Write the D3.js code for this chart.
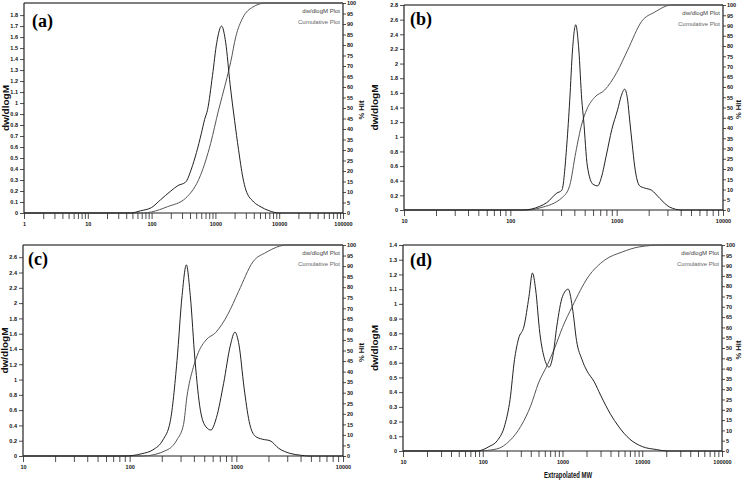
<!DOCTYPE html>
<html>
<head>
<meta charset="utf-8">
<title>MW distributions</title>
<script src="https://cdnjs.cloudflare.com/ajax/libs/d3/7.8.5/d3.min.js"></script>
<style>
  body { margin: 0; background: #fff; }
  svg { display: block; }
  .tk { font-family: 'Liberation Sans Narrow', 'Liberation Sans', sans-serif; font-size: 5.5px; font-weight: bold; fill: #111; }
  .ttl { font-family: 'Liberation Sans', sans-serif; font-size: 9px; font-weight: bold; fill: #111; }
  .xt { font-family: 'Liberation Sans Narrow', 'Liberation Sans', sans-serif; font-size: 9px; font-weight: bold; fill: #111; }
  .leg { font-family: 'Liberation Sans Narrow', 'Liberation Sans', sans-serif; font-size: 6px; fill: #444; }
  .pl { font-family: 'Liberation Serif', 'DejaVu Serif', serif; font-size: 18px; font-weight: bold; fill: #000; }
</style>
</head>
<body>
<script>
// panel (a)
var mwA  = [47, 67, 100, 138, 200, 260, 340, 420, 505, 600, 677, 754, 900, 1050, 1250, 1450, 1700, 2000, 2300, 2700, 3000, 4000, 5000, 7000, 10000];
var dwA  = [0, 0.02, 0.05, 0.12, 0.2, 0.25, 0.28, 0.4, 0.55, 0.72, 0.85, 0.94, 1.25, 1.55, 1.70, 1.55, 1.17, 0.84, 0.58, 0.32, 0.21, 0.1, 0.06, 0.02, 0];
var cmwA = [74, 100, 177, 340, 585, 840, 1120, 1450, 1740, 2090, 2690, 3830, 6150];
var cumA = [0, 0.5, 3, 7, 18, 33, 49, 62, 72, 84, 93, 98, 100];

// panel (b)
var mwB  = [131, 189, 220, 273, 305, 340, 362, 385, 412, 440, 470, 489, 530, 600, 663, 720, 800, 900, 1021, 1100, 1188, 1268, 1325, 1400, 1476, 1644, 1833, 2131, 2537, 3148, 4074];
var dwB  = [0, 0.05, 0.1, 0.23, 0.27, 0.9, 1.5, 2.2, 2.53, 2.2, 1.5, 1.23, 0.6, 0.35, 0.33, 0.45, 0.75, 1.1, 1.37, 1.55, 1.65, 1.5, 1.23, 0.9, 0.6, 0.33, 0.3, 0.27, 0.16, 0.04, 0];
var cmwB = [146, 189, 311, 362, 412, 470, 523, 621, 771, 1000, 1268, 1717, 2275, 3284];
var cumB = [0, 1, 6.3, 12, 28, 42, 49, 55, 58.5, 67, 78, 92, 96.5, 100];

// panel (c)
var mwC  = [90, 130, 165, 205, 240, 278, 310, 340, 370, 410, 460, 520, 578, 650, 760, 880, 970, 1060, 1180, 1320, 1500, 1750, 2070, 2500, 3170, 4000, 4700];
var dwC  = [0, 0.03, 0.08, 0.21, 0.45, 1.25, 2.1, 2.5, 2.1, 1.25, 0.6, 0.38, 0.34, 0.5, 0.95, 1.45, 1.62, 1.45, 0.9, 0.45, 0.26, 0.22, 0.2, 0.1, 0.035, 0.01, 0];
var cmwC = [133, 223, 277, 320, 344, 395, 440, 520, 640, 830, 1050, 1430, 1900, 3000];
var cumC = [0, 2.8, 7.6, 15, 28, 42, 49, 55, 58.5, 67, 78, 92, 96.5, 100];

// panel (d)
var mwD  = [85, 120, 152, 190, 220, 250, 280, 330, 380, 420, 460, 520, 600, 680, 760, 850, 1000, 1180, 1350, 1500, 1760, 2000, 2500, 3000, 4000, 5000, 7000, 10000, 15000, 20500];
var dwD  = [0, 0.03, 0.07, 0.18, 0.35, 0.62, 0.76, 0.85, 1.05, 1.21, 1.1, 0.8, 0.62, 0.57, 0.65, 0.85, 1.05, 1.10, 0.95, 0.75, 0.62, 0.55, 0.47, 0.38, 0.25, 0.17, 0.08, 0.03, 0.01, 0];
var cmwD = [85, 150, 218, 300, 400, 500, 650, 807, 1000, 1320, 2100, 3390, 5600, 8950, 17800];
var cumD = [0, 1, 5, 12, 22, 33, 42, 50.5, 60, 70, 84.5, 92.7, 96.6, 99, 100];

var W = 742, H = 483;
var svg = d3.select("body").append("svg").attr("width", W).attr("height", H);

var panels = [
  {name: "(a)", mw: mwA, dw: dwA, cmw: cmwA, cum: cumA, xd: [1, 1e5], ymax: 1.91, ytop: 1.8, ystep: 0.1,
   l: 24, r: 343, t: 3, b: 213, lx: 32, ly: 27, ylx: 9, hx: 364},
  {name: "(b)", mw: mwB, dw: dwB, cmw: cmwB, cum: cumB, xd: [10, 1e4], ymax: 2.8, ytop: 2.8, ystep: 0.2,
   l: 404, r: 723, t: 5, b: 210, lx: 410, ly: 25, ylx: 378, hx: 741},
  {name: "(c)", mw: mwC, dw: dwC, cmw: cmwC, cum: cumC, xd: [10, 1e4], ymax: 2.76, ytop: 2.6, ystep: 0.2,
   l: 23, r: 343, t: 245, b: 456, lx: 28, ly: 265, ylx: 8, hx: 364},
  {name: "(d)", mw: mwD, dw: dwD, cmw: cmwD, cum: cumD, xd: [10, 1e5], ymax: 1.4, ytop: 1.4, ystep: 0.1,
   l: 403, r: 722, t: 245, b: 451, lx: 410, ly: 266, ylx: 378, hx: 741}
];

panels.forEach(function(p) {
  var g = svg.append("g");
  var x = d3.scaleLog().domain(p.xd).range([p.l, p.r]);
  var y = d3.scaleLinear().domain([0, p.ymax]).range([p.b, p.t]);
  var y2 = d3.scaleLinear().domain([0, 100]).range([p.b, p.t]);

  // log ticks 1..9 per decade
  var xt = [];
  for (var e = Math.log10(p.xd[0]); e <= Math.log10(p.xd[1]); e++) {
    for (var k = 1; k <= 9; k++) {
      var v = k * Math.pow(10, e);
      if (v <= p.xd[1] * 1.0001) xt.push(v);
    }
  }
  var xAxis = d3.axisBottom(x).tickValues(xt).tickSize(6).tickPadding(3)
    .tickFormat(function(d) {
      var lg = Math.log10(d);
      return Math.abs(lg - Math.round(lg)) < 1e-6 ? String(Math.round(d)) : "";
    });
  var yt = d3.range(0, p.ytop + 1e-6, p.ystep).map(function(d) { return +d.toFixed(1); });
  var yAxis = d3.axisLeft(y).tickValues(yt).tickSize(4).tickPadding(2)
    .tickFormat(function(d) { return String(d); });
  var y2Axis = d3.axisRight(y2).tickValues(d3.range(0, 101, 5)).tickSize(3).tickPadding(1);

  // frame top
  g.append("line").attr("x1", p.l).attr("x2", p.r).attr("y1", p.t).attr("y2", p.t)
    .attr("stroke", "#555").attr("stroke-width", 1.5);

  var xg = g.append("g").attr("transform", "translate(0," + p.b + ")").call(xAxis);
  var yg = g.append("g").attr("transform", "translate(" + p.l + ",0)").call(yAxis);
  var y2g = g.append("g").attr("transform", "translate(" + p.r + ",0)").call(y2Axis);
  [xg, yg, y2g].forEach(function(a) {
    a.selectAll("text").attr("class", "tk").attr("font-size", null).attr("font-family", null);
    a.selectAll("line").attr("stroke", "#222").attr("stroke-width", 0.8);
    a.select(".domain").attr("stroke", "#222").attr("stroke-width", 1.2);
    a.attr("font-size", null).attr("font-family", null);
  });
  xg.select(".domain").attr("d", "M" + p.l + ",0H" + p.r);
  yg.select(".domain").attr("d", "M0," + p.b + "V" + p.t);
  y2g.select(".domain").attr("d", "M0," + p.b + "V" + p.t);

  var line = d3.line().curve(d3.curveMonotoneX);
  var dwPts = p.mw.map(function(m, i) { return [x(m), y(p.dw[i])]; });
  var cumPts = p.cmw.map(function(m, i) { return [x(m), y2(p.cum[i])]; });
  cumPts.push([p.r, y2(100)]);
  dwPts.push([p.r, y(0)]);
  dwPts.unshift([p.l, y(0)]);
  cumPts.unshift([p.l, y2(0)]);

  g.append("path").attr("d", line(cumPts)).attr("fill", "none")
    .attr("stroke", "#555").attr("stroke-width", 1);
  g.append("path").attr("d", line(dwPts)).attr("fill", "none")
    .attr("stroke", "#222").attr("stroke-width", 1);

  // legend
  g.append("text").attr("class", "leg").attr("x", p.r - 3).attr("y", p.t + 10)
    .attr("text-anchor", "end").attr("fill", "#333").text("dw/dlogM Plot");
  g.append("text").attr("class", "leg").attr("x", p.r - 3).attr("y", p.t + 21)
    .attr("text-anchor", "end").style("fill", "#666").text("Cumulative Plot");

  // axis titles
  var cy = (p.t + p.b) / 2;
  g.append("text").attr("class", "ttl")
    .attr("transform", "translate(" + p.ylx + "," + cy + ") rotate(-90)")
    .attr("text-anchor", "middle").attr("textLength", 46).attr("lengthAdjust", "spacingAndGlyphs")
    .text("dw/dlogM");
  g.append("text").attr("class", "ttl").style("font-size", "8px")
    .attr("transform", "translate(" + p.hx + "," + (cy + 2) + ") rotate(-90)")
    .attr("text-anchor", "middle").attr("textLength", 19).attr("lengthAdjust", "spacingAndGlyphs")
    .text("% Hit");

  g.append("text").attr("class", "pl").attr("x", p.lx).attr("y", p.ly).text(p.name);
});

svg.append("text").attr("class", "xt").attr("x", 544).attr("y", 478)
  .attr("textLength", 48).attr("lengthAdjust", "spacingAndGlyphs").text("Extrapolated MW");
</script>
</body>
</html>
